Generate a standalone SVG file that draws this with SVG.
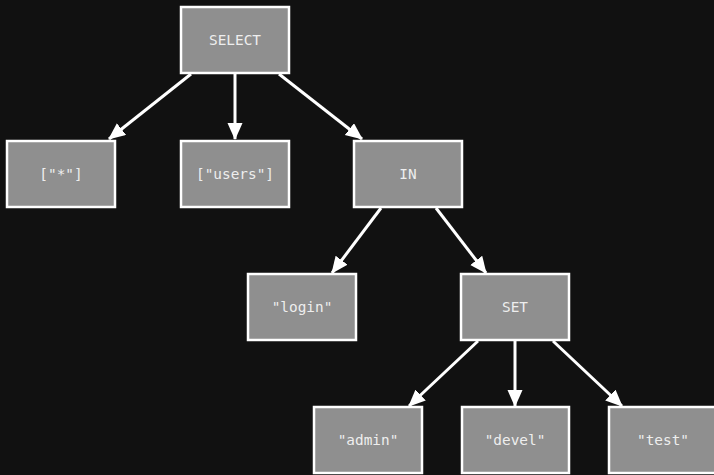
<svg xmlns="http://www.w3.org/2000/svg" width="714" height="475" viewBox="0 0 714 475">
  <style>
    .node rect { fill: #8f8f8f; stroke: #ffffff; stroke-width: 2.5; }
    .node text { fill: #eeeeee; font-family: "DejaVu Sans Mono", "Liberation Mono", monospace; font-size: 14.4px; text-anchor: middle; dominant-baseline: central; }
    .edges line { stroke: #ffffff; stroke-width: 3; marker-end: url(#arrow); }
  </style>
  <defs>
    <marker id="arrow" markerUnits="userSpaceOnUse" markerWidth="18" markerHeight="16" refX="16" refY="7.5" orient="auto">
      <path d="M0,0 L17,7.5 L0,15 z" fill="#ffffff"/>
    </marker>
  </defs>
  <rect width="714" height="475" fill="#111111"/>

  <g class="edges">
    <line x1="191" y1="74" x2="109" y2="139"/>
    <line x1="235" y1="74" x2="235" y2="139"/>
    <line x1="279" y1="74" x2="362" y2="139"/>
    <line x1="381" y1="208" x2="332" y2="273"/>
    <line x1="436" y1="208" x2="486" y2="273"/>
    <line x1="478" y1="341" x2="409" y2="406"/>
    <line x1="515" y1="341" x2="515" y2="406"/>
    <line x1="553" y1="341" x2="622" y2="406"/>
  </g>

  <g id="select" class="node"><rect x="181" y="7" width="108" height="66"/><text x="235" y="40">SELECT</text></g>
  <g id="star" class="node"><rect x="7" y="141" width="108" height="66"/><text x="61" y="174">["*"]</text></g>
  <g id="users" class="node"><rect x="181" y="141" width="108" height="66"/><text x="235" y="174">["users"]</text></g>
  <g id="in" class="node"><rect x="354" y="141" width="108" height="66"/><text x="408" y="174">IN</text></g>
  <g id="login" class="node"><rect x="248" y="274" width="108" height="66"/><text x="302" y="307">"login"</text></g>
  <g id="set" class="node"><rect x="461" y="274" width="108" height="66"/><text x="515" y="307">SET</text></g>
  <g id="admin" class="node"><rect x="314" y="407" width="108" height="66"/><text x="368" y="440">"admin"</text></g>
  <g id="devel" class="node"><rect x="462" y="407" width="107" height="66"/><text x="515" y="440">"devel"</text></g>
  <g id="test" class="node"><rect x="609" y="407" width="108" height="66"/><text x="663" y="440">"test"</text></g>
</svg>
